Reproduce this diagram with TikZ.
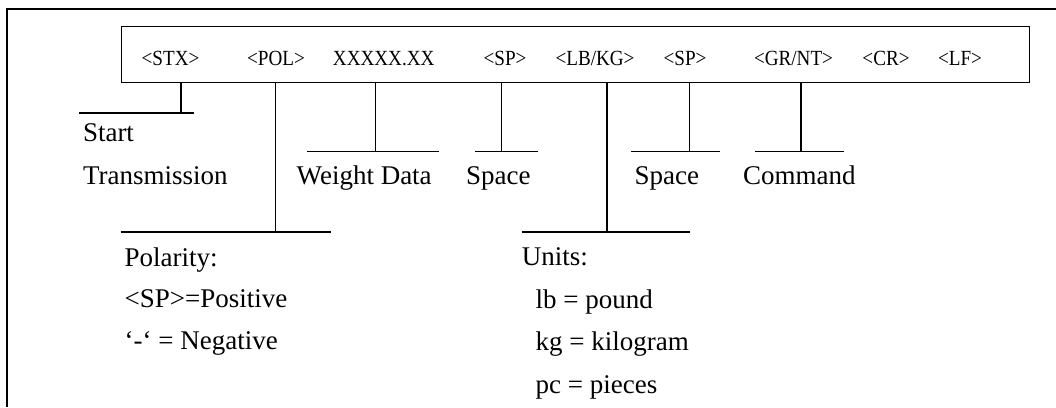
\documentclass[tikz,border=0pt]{standalone}
\usepackage{fontspec}
\usepackage{graphicx}
\setmainfont{Liberation Serif}
\newcommand{\fieldtxt}[1]{\scalebox{0.885}[1]{\fontsize{21.6}{24}\selectfont #1}}
\begin{document}
\begin{tikzpicture}[x=1pt,y=-1pt,
  ln/.style={line width=1.2pt,black},
  toplbl/.style={inner sep=0pt,anchor=base},
  lbl/.style={inner sep=0pt,anchor=base west,font=\fontsize{27}{30}\selectfont}]
\useasboundingbox (0,0) rectangle (1056,407);
% outer frame (top and left)
\coordinate (oa) at (7,407);
\coordinate (ob) at (7,9);
\coordinate (oc) at (1056,9);
\draw[line width=1.4pt] (oa) -- (ob) -- (oc);
% message box
\node[draw,line width=1.2pt,minimum width=908pt,minimum height=56pt,inner sep=0pt,anchor=north west] (box) at (121,26) {};
% field labels
\node[toplbl] (stx) at (170.5,65.5) {\fieldtxt{<STX>}};
\node[toplbl] (pol) at (276,65.5) {\fieldtxt{<POL>}};
\node[toplbl] (wd) at (383.7,65.5) {\fieldtxt{XXXXX.XX}};
\node[toplbl] (sp1) at (505,65.5) {\fieldtxt{<SP>}};
\node[toplbl] (lbkg) at (595,65.5) {\fieldtxt{<LB/KG>}};
\node[toplbl] (sp2) at (685,65.5) {\fieldtxt{<SP>}};
\node[toplbl] (grnt) at (793.5,65.5) {\fieldtxt{<GR/NT>}};
\node[toplbl] (cr) at (886,65.5) {\fieldtxt{<CR>}};
\node[toplbl] (lf) at (960,65.5) {\fieldtxt{<LF>}};
% connector coordinates
\coordinate (s1) at (181,113);
\coordinate (s1l) at (79,113);
\coordinate (s1r) at (194,113);
\coordinate (s2) at (275.7,232);
\coordinate (s2l) at (120.7,232);
\coordinate (s2r) at (331,232);
\coordinate (s3) at (375.7,151.5);
\coordinate (s3l) at (307,151.5);
\coordinate (s3r) at (438.5,151.5);
\coordinate (s4) at (501.5,151.5);
\coordinate (s4l) at (475,151.5);
\coordinate (s4r) at (538,151.5);
\coordinate (s5) at (607,232);
\coordinate (s5l) at (521.7,232);
\coordinate (s5r) at (690,232);
\coordinate (s6) at (689.3,151.5);
\coordinate (s6l) at (631,151.5);
\coordinate (s6r) at (720,151.5);
\coordinate (s7) at (801,151.5);
\coordinate (s7l) at (755,151.5);
\coordinate (s7r) at (844,151.5);
\foreach \i in {1,...,7}{
  \draw[ln] (box.south -| s\i) -- (s\i);
  \draw[ln] (s\i l) -- (s\i r);
}
% descriptions
\node[lbl] (start) at (82.8,141.3) {Start};
\node[lbl] (trans) at (82.8,184) {Transmission};
\node[lbl] (wdata) at (296.5,184) {Weight Data};
\node[lbl] (spc1) at (466,184) {Space};
\node[lbl] (spc2) at (634.5,184) {Space};
\node[lbl] (cmd) at (743,184) {Command};
\node[lbl] (polh) at (124.4,266) {Polarity:};
\node[lbl] (polp) at (124.4,307.5) {<SP>=Positive};
\node[lbl] (poln) at (124.4,349) {‘-‘ = Negative};
\node[lbl] (unith) at (521.7,265.6) {Units:};
\node[lbl] (ulb) at (535.4,308) {lb = pound};
\node[lbl] (ukg) at (535.4,350.4) {kg = kilogram};
\node[lbl] (upc) at (535.4,393) {pc = pieces};
\end{tikzpicture}
\end{document}
